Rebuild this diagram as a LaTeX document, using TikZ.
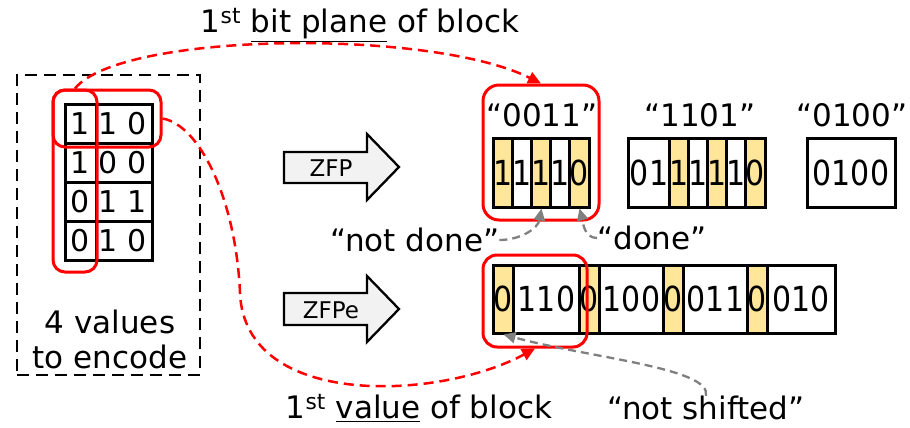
\documentclass[tikz,border=0pt]{standalone}
\usepackage{fontspec}
\setmainfont{DejaVu Sans}
\usepackage{graphicx}
\usetikzlibrary{arrows.meta,calc}
\definecolor{yel}{RGB}{255,230,153}
\definecolor{zgray}{RGB}{242,242,242}
\newcommand\vstr[1]{\scalebox{1}[1.15]{#1}}
\begin{document}
\begin{tikzpicture}[x=1pt,y=-1pt,
  every node/.style={font=\fontsize{31}{37}\selectfont, inner sep=0pt},
  cell/.style={draw, line width=3pt, minimum height=69pt, fill=white, font=\fontsize{30}{36}\selectfont},
  ycell/.style={cell, fill=yel},
  tblrow/.style={draw, line width=3pt, minimum width=87pt, minimum height=39pt, font=\fontsize{30}{36}\selectfont},
  redbox/.style={draw=red, line width=3pt, rounded corners=12pt},
  reddash/.style={draw=red, line width=2.5pt, dash pattern=on 10pt off 6pt, -{Triangle[length=13pt,width=12pt]}},
  graydash/.style={draw=gray, line width=2.3pt, dash pattern=on 8pt off 5pt, -{Triangle[length=12pt,width=11pt]}},
  bigarrow/.style={draw, line width=2.3pt, fill=zgray, line join=miter},
  zlabel/.style={font=\fontsize{23}{28}\selectfont},
]
\useasboundingbox[fill=white] (0,0) rectangle (910,428);

% left dashed box and table
\node[draw, line width=2.5pt, dash pattern=on 12pt off 7pt, minimum width=183pt, minimum height=300pt] (left) at (108.5,225) {};
\node[tblrow] (row1) at (108.5,123.5) {1 1 0};
\node[tblrow] (row2) at (108.5,162.5) {1 0 0};
\node[tblrow] (row3) at (108.5,201.5) {0 1 1};
\node[tblrow] (row4) at (108.5,240.5) {0 1 0};
\coordinate (dt) at (96,104);
\coordinate (db) at (96,260);
\draw[line width=3pt] (dt) -- (db);
\node (v1) at (110,322) {4 values};
\node (v2) at (110,357) {to encode};
\node[redbox, minimum width=44pt, minimum height=182pt] (vred) at (75,181) {};
\node[redbox, minimum width=108pt, minimum height=57pt] (hred) at (107,118.5) {};

% titles
\node (title) at (360,25) {1\textsuperscript{st} \underline{bit plane} of block};
\node (vb) at (419,408) {1\textsuperscript{st} \underline{value} of block};

% ZFP arrows
\draw[bigarrow] (284,152) -- (367,152) -- (367,134) -- (399,167) -- (367,200) -- (367,183) -- (284,183) -- cycle;
\node[zlabel] (zfp) at (331,168) {ZFP};
\draw[bigarrow] (284,293) -- (367,293) -- (367,276) -- (399,309) -- (367,342) -- (367,325) -- (284,325) -- cycle;
\node[zlabel] (zfpe) at (331,310) {ZFPe};

% quoted labels
\node (q1) at (542,115) {“0011”};
\node (q2) at (700,115) {“1101”};
\node (q3) at (852,115) {“0100”};

% block 1
\node[ycell, minimum width=19pt] (a1) at (503.5,172.5) {\vstr{1}};
\node[cell, minimum width=19pt] (a2) at (522.5,172.5) {\vstr{1}};
\node[ycell, minimum width=19pt] (a3) at (541.5,172.5) {\vstr{1}};
\node[cell, minimum width=19pt] (a4) at (560.5,172.5) {\vstr{1}};
\node[ycell, minimum width=19pt] (a5) at (579.5,172.5) {\vstr{0}};

% block 2
\node[cell, minimum width=42pt] (b0) at (649,172.5) {\vstr{01}};
\node[ycell, minimum width=19pt] (b1) at (679.5,172.5) {\vstr{1}};
\node[cell, minimum width=19pt] (b2) at (698.5,172.5) {\vstr{1}};
\node[ycell, minimum width=19pt] (b3) at (717.5,172.5) {\vstr{1}};
\node[cell, minimum width=19pt] (b4) at (736.5,172.5) {\vstr{1}};
\node[ycell, minimum width=19pt] (b5) at (755.5,172.5) {\vstr{0}};

% block 3
\node[cell, minimum width=88pt] (c0) at (851,172.5) {\vstr{0100}};

% bottom block
\node[ycell, minimum width=19pt, minimum height=68pt] (d1) at (503.5,299) {\vstr{0}};
\node[cell, minimum width=67pt, minimum height=68pt] (d2) at (546.5,299) {\vstr{110}};
\node[ycell, minimum width=19pt, minimum height=68pt] (d3) at (589.5,299) {\vstr{0}};
\node[cell, minimum width=65pt, minimum height=68pt] (d4) at (631.5,299) {\vstr{100}};
\node[ycell, minimum width=19pt, minimum height=68pt] (d5) at (673.5,299) {\vstr{0}};
\node[cell, minimum width=65pt, minimum height=68pt] (d6) at (715.5,299) {\vstr{011}};
\node[ycell, minimum width=19pt, minimum height=68pt] (d7) at (757.5,299) {\vstr{0}};
\node[cell, minimum width=68pt, minimum height=68pt] (d8) at (801,299) {\vstr{010}};

% red boxes on right
\node[redbox, minimum width=116pt, minimum height=135pt, rounded corners=16pt] (rtop) at (541,152.5) {};
\node[redbox, minimum width=104pt, minimum height=92pt, rounded corners=14pt] (rbot) at (535,301) {};

% annotations
\node (nd) at (415,240) {“not done”};
\node (dn) at (652,238) {“done”};
\node (ns) at (706,408) {“not shifted”};

% connectors
\coordinate (rmid) at (240,293);
\draw[reddash] (vred.north) .. controls (120,32) and (430,28) .. (rtop.north);
\draw[reddash] (hred.east) .. controls (200,125) and (236,200) .. (rmid) .. controls (245,410) and (440,400) .. (rbot.south);
\draw[graydash] (nd.east) to[out=0,in=-100] (a3.south);
\draw[graydash] (dn.west) to[out=180,in=-75] (a5.south);
\draw[graydash] (ns.north) .. controls (712,368) and (590,358) .. (d1.south);
\end{tikzpicture}
\end{document}
